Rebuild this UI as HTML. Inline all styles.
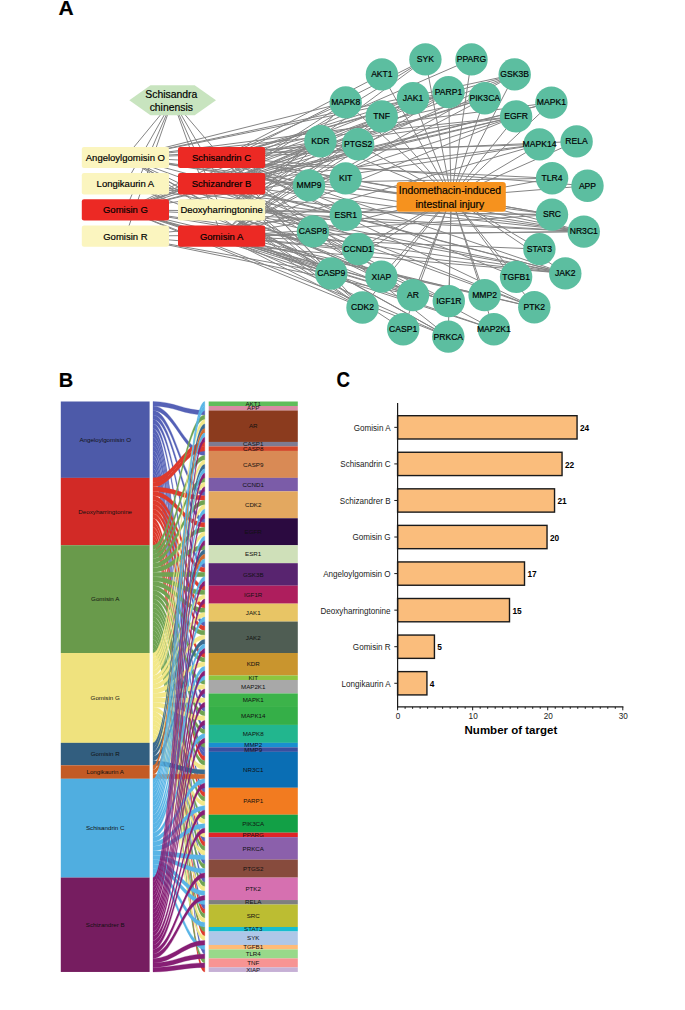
<!DOCTYPE html><html><head><meta charset="utf-8"><style>html,body{margin:0;padding:0;background:#fff;}svg{display:block;}text{font-family:"Liberation Sans", sans-serif;stroke:#000;stroke-width:0.18px;}</style></head><body>
<svg width="685" height="1010" viewBox="0 0 685 1010">
<rect width="685" height="1010" fill="#fff"/>
<g stroke="#848484" stroke-width="1.0" fill="none">
<line x1="172.6" y1="100.2" x2="125.4" y2="157.4"/>
<line x1="172.6" y1="100.2" x2="221.6" y2="209.9"/>
<line x1="172.6" y1="100.2" x2="221.6" y2="236.2"/>
<line x1="172.6" y1="100.2" x2="125.4" y2="209.9"/>
<line x1="172.6" y1="100.2" x2="125.4" y2="236.2"/>
<line x1="172.6" y1="100.2" x2="125.4" y2="183.8"/>
<line x1="172.6" y1="100.2" x2="221.6" y2="157.4"/>
<line x1="172.6" y1="100.2" x2="221.6" y2="183.8"/>
<line x1="221.6" y1="157.4" x2="381.9" y2="74.4"/>
<line x1="221.6" y1="157.4" x2="587.5" y2="185.8"/>
<line x1="125.4" y1="157.4" x2="413.0" y2="295.1"/>
<line x1="221.6" y1="236.2" x2="413.0" y2="295.1"/>
<line x1="125.4" y1="209.9" x2="413.0" y2="295.1"/>
<line x1="125.4" y1="236.2" x2="413.0" y2="295.1"/>
<line x1="125.4" y1="183.8" x2="413.0" y2="295.1"/>
<line x1="221.6" y1="157.4" x2="413.0" y2="295.1"/>
<line x1="221.6" y1="183.8" x2="413.0" y2="295.1"/>
<line x1="221.6" y1="209.9" x2="403.2" y2="329.2"/>
<line x1="221.6" y1="209.9" x2="312.9" y2="231.4"/>
<line x1="125.4" y1="157.4" x2="331.3" y2="273.5"/>
<line x1="221.6" y1="236.2" x2="331.3" y2="273.5"/>
<line x1="125.4" y1="209.9" x2="331.3" y2="273.5"/>
<line x1="125.4" y1="236.2" x2="331.3" y2="273.5"/>
<line x1="221.6" y1="157.4" x2="331.3" y2="273.5"/>
<line x1="221.6" y1="183.8" x2="331.3" y2="273.5"/>
<line x1="221.6" y1="236.2" x2="358.1" y2="249.0"/>
<line x1="125.4" y1="209.9" x2="358.1" y2="249.0"/>
<line x1="221.6" y1="183.8" x2="358.1" y2="249.0"/>
<line x1="125.4" y1="157.4" x2="362.5" y2="307.5"/>
<line x1="221.6" y1="209.9" x2="362.5" y2="307.5"/>
<line x1="221.6" y1="236.2" x2="362.5" y2="307.5"/>
<line x1="125.4" y1="209.9" x2="362.5" y2="307.5"/>
<line x1="221.6" y1="157.4" x2="362.5" y2="307.5"/>
<line x1="221.6" y1="183.8" x2="362.5" y2="307.5"/>
<line x1="125.4" y1="157.4" x2="516.1" y2="116.4"/>
<line x1="221.6" y1="209.9" x2="516.1" y2="116.4"/>
<line x1="221.6" y1="236.2" x2="516.1" y2="116.4"/>
<line x1="125.4" y1="209.9" x2="516.1" y2="116.4"/>
<line x1="221.6" y1="157.4" x2="516.1" y2="116.4"/>
<line x1="221.6" y1="183.8" x2="516.1" y2="116.4"/>
<line x1="221.6" y1="236.2" x2="345.8" y2="214.8"/>
<line x1="125.4" y1="236.2" x2="345.8" y2="214.8"/>
<line x1="125.4" y1="183.8" x2="345.8" y2="214.8"/>
<line x1="221.6" y1="157.4" x2="345.8" y2="214.8"/>
<line x1="125.4" y1="157.4" x2="514.7" y2="74.4"/>
<line x1="221.6" y1="209.9" x2="514.7" y2="74.4"/>
<line x1="221.6" y1="236.2" x2="514.7" y2="74.4"/>
<line x1="221.6" y1="157.4" x2="514.7" y2="74.4"/>
<line x1="221.6" y1="183.8" x2="514.7" y2="74.4"/>
<line x1="221.6" y1="209.9" x2="448.8" y2="301.1"/>
<line x1="221.6" y1="236.2" x2="448.8" y2="301.1"/>
<line x1="125.4" y1="209.9" x2="448.8" y2="301.1"/>
<line x1="221.6" y1="183.8" x2="448.8" y2="301.1"/>
<line x1="221.6" y1="209.9" x2="413.0" y2="98.2"/>
<line x1="221.6" y1="236.2" x2="413.0" y2="98.2"/>
<line x1="125.4" y1="209.9" x2="413.0" y2="98.2"/>
<line x1="221.6" y1="157.4" x2="413.0" y2="98.2"/>
<line x1="125.4" y1="157.4" x2="565.3" y2="273.4"/>
<line x1="221.6" y1="209.9" x2="565.3" y2="273.4"/>
<line x1="221.6" y1="236.2" x2="565.3" y2="273.4"/>
<line x1="125.4" y1="209.9" x2="565.3" y2="273.4"/>
<line x1="125.4" y1="236.2" x2="565.3" y2="273.4"/>
<line x1="221.6" y1="157.4" x2="565.3" y2="273.4"/>
<line x1="221.6" y1="183.8" x2="565.3" y2="273.4"/>
<line x1="125.4" y1="183.8" x2="565.3" y2="273.4"/>
<line x1="221.6" y1="209.9" x2="320.4" y2="141.2"/>
<line x1="221.6" y1="236.2" x2="320.4" y2="141.2"/>
<line x1="125.4" y1="209.9" x2="320.4" y2="141.2"/>
<line x1="221.6" y1="157.4" x2="320.4" y2="141.2"/>
<line x1="221.6" y1="183.8" x2="320.4" y2="141.2"/>
<line x1="221.6" y1="157.4" x2="345.6" y2="178.4"/>
<line x1="221.6" y1="236.2" x2="493.9" y2="329.3"/>
<line x1="125.4" y1="209.9" x2="493.9" y2="329.3"/>
<line x1="221.6" y1="183.8" x2="493.9" y2="329.3"/>
<line x1="125.4" y1="157.4" x2="551.4" y2="102.6"/>
<line x1="125.4" y1="209.9" x2="551.4" y2="102.6"/>
<line x1="221.6" y1="183.8" x2="551.4" y2="102.6"/>
<line x1="125.4" y1="157.4" x2="539.5" y2="144.4"/>
<line x1="221.6" y1="236.2" x2="539.5" y2="144.4"/>
<line x1="125.4" y1="209.9" x2="539.5" y2="144.4"/>
<line x1="221.6" y1="183.8" x2="539.5" y2="144.4"/>
<line x1="125.4" y1="157.4" x2="345.7" y2="102.4"/>
<line x1="221.6" y1="236.2" x2="345.7" y2="102.4"/>
<line x1="221.6" y1="157.4" x2="345.7" y2="102.4"/>
<line x1="221.6" y1="183.8" x2="345.7" y2="102.4"/>
<line x1="221.6" y1="236.2" x2="484.6" y2="295.1"/>
<line x1="125.4" y1="157.4" x2="309.0" y2="185.4"/>
<line x1="125.4" y1="157.4" x2="583.8" y2="231.6"/>
<line x1="221.6" y1="209.9" x2="583.8" y2="231.6"/>
<line x1="221.6" y1="236.2" x2="583.8" y2="231.6"/>
<line x1="125.4" y1="209.9" x2="583.8" y2="231.6"/>
<line x1="125.4" y1="236.2" x2="583.8" y2="231.6"/>
<line x1="125.4" y1="183.8" x2="583.8" y2="231.6"/>
<line x1="221.6" y1="157.4" x2="583.8" y2="231.6"/>
<line x1="221.6" y1="183.8" x2="583.8" y2="231.6"/>
<line x1="125.4" y1="157.4" x2="448.5" y2="92.1"/>
<line x1="221.6" y1="209.9" x2="448.5" y2="92.1"/>
<line x1="221.6" y1="236.2" x2="448.5" y2="92.1"/>
<line x1="125.4" y1="209.9" x2="448.5" y2="92.1"/>
<line x1="221.6" y1="157.4" x2="448.5" y2="92.1"/>
<line x1="221.6" y1="183.8" x2="448.5" y2="92.1"/>
<line x1="221.6" y1="236.2" x2="484.8" y2="98.2"/>
<line x1="125.4" y1="209.9" x2="484.8" y2="98.2"/>
<line x1="221.6" y1="157.4" x2="484.8" y2="98.2"/>
<line x1="221.6" y1="183.8" x2="484.8" y2="98.2"/>
<line x1="125.4" y1="209.9" x2="471.5" y2="59.4"/>
<line x1="125.4" y1="157.4" x2="448.3" y2="336.6"/>
<line x1="221.6" y1="209.9" x2="448.3" y2="336.6"/>
<line x1="221.6" y1="236.2" x2="448.3" y2="336.6"/>
<line x1="125.4" y1="209.9" x2="448.3" y2="336.6"/>
<line x1="221.6" y1="157.4" x2="448.3" y2="336.6"/>
<line x1="125.4" y1="157.4" x2="358.1" y2="144.3"/>
<line x1="221.6" y1="236.2" x2="358.1" y2="144.3"/>
<line x1="221.6" y1="157.4" x2="358.1" y2="144.3"/>
<line x1="221.6" y1="183.8" x2="358.1" y2="144.3"/>
<line x1="125.4" y1="157.4" x2="534.3" y2="307.3"/>
<line x1="221.6" y1="236.2" x2="534.3" y2="307.3"/>
<line x1="125.4" y1="209.9" x2="534.3" y2="307.3"/>
<line x1="221.6" y1="157.4" x2="534.3" y2="307.3"/>
<line x1="221.6" y1="183.8" x2="534.3" y2="307.3"/>
<line x1="221.6" y1="157.4" x2="576.6" y2="141.4"/>
<line x1="125.4" y1="157.4" x2="552.0" y2="214.6"/>
<line x1="221.6" y1="209.9" x2="552.0" y2="214.6"/>
<line x1="221.6" y1="236.2" x2="552.0" y2="214.6"/>
<line x1="125.4" y1="209.9" x2="552.0" y2="214.6"/>
<line x1="221.6" y1="157.4" x2="552.0" y2="214.6"/>
<line x1="221.6" y1="236.2" x2="539.4" y2="249.1"/>
<line x1="221.6" y1="209.9" x2="425.4" y2="59.4"/>
<line x1="125.4" y1="209.9" x2="425.4" y2="59.4"/>
<line x1="221.6" y1="183.8" x2="425.4" y2="59.4"/>
<line x1="221.6" y1="157.4" x2="516.1" y2="276.9"/>
<line x1="125.4" y1="157.4" x2="552.1" y2="178.3"/>
<line x1="221.6" y1="183.8" x2="552.1" y2="178.3"/>
<line x1="221.6" y1="236.2" x2="381.7" y2="116.4"/>
<line x1="221.6" y1="183.8" x2="381.7" y2="116.4"/>
<line x1="221.6" y1="209.9" x2="381.4" y2="276.6"/>
<line x1="425.4" y1="59.4" x2="451.2" y2="196.9"/>
<line x1="471.5" y1="59.4" x2="451.2" y2="196.9"/>
<line x1="514.7" y1="74.4" x2="451.2" y2="196.9"/>
<line x1="551.4" y1="102.6" x2="451.2" y2="196.9"/>
<line x1="576.6" y1="141.4" x2="451.2" y2="196.9"/>
<line x1="587.5" y1="185.8" x2="451.2" y2="196.9"/>
<line x1="583.8" y1="231.6" x2="451.2" y2="196.9"/>
<line x1="565.3" y1="273.4" x2="451.2" y2="196.9"/>
<line x1="534.3" y1="307.3" x2="451.2" y2="196.9"/>
<line x1="493.9" y1="329.3" x2="451.2" y2="196.9"/>
<line x1="448.3" y1="336.6" x2="451.2" y2="196.9"/>
<line x1="403.2" y1="329.2" x2="451.2" y2="196.9"/>
<line x1="362.5" y1="307.5" x2="451.2" y2="196.9"/>
<line x1="331.3" y1="273.5" x2="451.2" y2="196.9"/>
<line x1="312.9" y1="231.4" x2="451.2" y2="196.9"/>
<line x1="309.0" y1="185.4" x2="451.2" y2="196.9"/>
<line x1="320.4" y1="141.2" x2="451.2" y2="196.9"/>
<line x1="345.7" y1="102.4" x2="451.2" y2="196.9"/>
<line x1="381.9" y1="74.4" x2="451.2" y2="196.9"/>
<line x1="413.0" y1="98.2" x2="451.2" y2="196.9"/>
<line x1="448.5" y1="92.1" x2="451.2" y2="196.9"/>
<line x1="484.8" y1="98.2" x2="451.2" y2="196.9"/>
<line x1="516.1" y1="116.4" x2="451.2" y2="196.9"/>
<line x1="539.5" y1="144.4" x2="451.2" y2="196.9"/>
<line x1="552.1" y1="178.3" x2="451.2" y2="196.9"/>
<line x1="552.0" y1="214.6" x2="451.2" y2="196.9"/>
<line x1="539.4" y1="249.1" x2="451.2" y2="196.9"/>
<line x1="516.1" y1="276.9" x2="451.2" y2="196.9"/>
<line x1="484.6" y1="295.1" x2="451.2" y2="196.9"/>
<line x1="448.8" y1="301.1" x2="451.2" y2="196.9"/>
<line x1="413.0" y1="295.1" x2="451.2" y2="196.9"/>
<line x1="381.4" y1="276.6" x2="451.2" y2="196.9"/>
<line x1="358.1" y1="249.0" x2="451.2" y2="196.9"/>
<line x1="345.8" y1="214.8" x2="451.2" y2="196.9"/>
<line x1="345.6" y1="178.4" x2="451.2" y2="196.9"/>
<line x1="358.1" y1="144.3" x2="451.2" y2="196.9"/>
<line x1="381.7" y1="116.4" x2="451.2" y2="196.9"/>
</g>
<polygon points="129.3,100.2 150.5,85.2 194.7,85.2 216.0,100.2 194.7,115.3 150.5,115.3" fill="#C8E4BF"/>
<text x="171.3" y="97.8" font-size="10.4" text-anchor="middle" fill="#000">Schisandra</text>
<text x="171.3" y="110.8" font-size="10.4" text-anchor="middle" fill="#000">chinensis</text>
<rect x="81.8" y="146.9" width="87.2" height="21.1" rx="2.2" fill="#FBF5BF"/>
<text x="125.4" y="160.8" font-size="9.5" text-anchor="middle" fill="#000">Angeloylgomisin O</text>
<rect x="81.8" y="173.1" width="87.2" height="21.4" rx="2.2" fill="#FBF5BF"/>
<text x="125.4" y="187.2" font-size="9.5" text-anchor="middle" fill="#000">Longikaurin A</text>
<rect x="81.8" y="199.3" width="87.2" height="21.2" rx="2.2" fill="#EC2924"/>
<text x="125.4" y="213.3" font-size="9.5" text-anchor="middle" fill="#000">Gomisin G</text>
<rect x="81.8" y="225.6" width="87.2" height="21.2" rx="2.2" fill="#FBF5BF"/>
<text x="125.4" y="239.6" font-size="9.5" text-anchor="middle" fill="#000">Gomisin R</text>
<rect x="178.0" y="146.9" width="87.2" height="21.1" rx="2.2" fill="#EC2924"/>
<text x="221.6" y="160.8" font-size="9.5" text-anchor="middle" fill="#000">Schisandrin C</text>
<rect x="178.0" y="173.1" width="87.2" height="21.4" rx="2.2" fill="#EC2924"/>
<text x="221.6" y="187.2" font-size="9.5" text-anchor="middle" fill="#000">Schizandrer B</text>
<rect x="178.0" y="199.3" width="87.2" height="21.2" rx="2.2" fill="#FBF5BF"/>
<text x="221.6" y="213.3" font-size="9.5" text-anchor="middle" fill="#000">Deoxyharringtonine</text>
<rect x="178.0" y="225.6" width="87.2" height="21.2" rx="2.2" fill="#EC2924"/>
<text x="221.6" y="239.6" font-size="9.5" text-anchor="middle" fill="#000">Gomisin A</text>
<circle cx="425.4" cy="59.4" r="16.2" fill="#5CBEA0"/>
<text x="425.4" y="62.2" font-size="8.6" text-anchor="middle" fill="#000">SYK</text>
<circle cx="471.5" cy="59.4" r="16.2" fill="#5CBEA0"/>
<text x="471.5" y="62.2" font-size="8.6" text-anchor="middle" fill="#000">PPARG</text>
<circle cx="514.7" cy="74.4" r="16.2" fill="#5CBEA0"/>
<text x="514.7" y="77.2" font-size="8.6" text-anchor="middle" fill="#000">GSK3B</text>
<circle cx="551.4" cy="102.6" r="16.2" fill="#5CBEA0"/>
<text x="551.4" y="105.4" font-size="8.6" text-anchor="middle" fill="#000">MAPK1</text>
<circle cx="576.6" cy="141.4" r="16.2" fill="#5CBEA0"/>
<text x="576.6" y="144.2" font-size="8.6" text-anchor="middle" fill="#000">RELA</text>
<circle cx="587.5" cy="185.8" r="16.2" fill="#5CBEA0"/>
<text x="587.5" y="188.7" font-size="8.6" text-anchor="middle" fill="#000">APP</text>
<circle cx="583.8" cy="231.6" r="16.2" fill="#5CBEA0"/>
<text x="583.8" y="234.4" font-size="8.6" text-anchor="middle" fill="#000">NR3C1</text>
<circle cx="565.3" cy="273.4" r="16.2" fill="#5CBEA0"/>
<text x="565.3" y="276.2" font-size="8.6" text-anchor="middle" fill="#000">JAK2</text>
<circle cx="534.3" cy="307.3" r="16.2" fill="#5CBEA0"/>
<text x="534.3" y="310.2" font-size="8.6" text-anchor="middle" fill="#000">PTK2</text>
<circle cx="493.9" cy="329.3" r="16.2" fill="#5CBEA0"/>
<text x="493.9" y="332.2" font-size="8.6" text-anchor="middle" fill="#000">MAP2K1</text>
<circle cx="448.3" cy="336.6" r="16.2" fill="#5CBEA0"/>
<text x="448.3" y="339.5" font-size="8.6" text-anchor="middle" fill="#000">PRKCA</text>
<circle cx="403.2" cy="329.2" r="16.2" fill="#5CBEA0"/>
<text x="403.2" y="332.1" font-size="8.6" text-anchor="middle" fill="#000">CASP1</text>
<circle cx="362.5" cy="307.5" r="16.2" fill="#5CBEA0"/>
<text x="362.5" y="310.4" font-size="8.6" text-anchor="middle" fill="#000">CDK2</text>
<circle cx="331.3" cy="273.5" r="16.2" fill="#5CBEA0"/>
<text x="331.3" y="276.4" font-size="8.6" text-anchor="middle" fill="#000">CASP9</text>
<circle cx="312.9" cy="231.4" r="16.2" fill="#5CBEA0"/>
<text x="312.9" y="234.2" font-size="8.6" text-anchor="middle" fill="#000">CASP8</text>
<circle cx="309.0" cy="185.4" r="16.2" fill="#5CBEA0"/>
<text x="309.0" y="188.2" font-size="8.6" text-anchor="middle" fill="#000">MMP9</text>
<circle cx="320.4" cy="141.2" r="16.2" fill="#5CBEA0"/>
<text x="320.4" y="144.0" font-size="8.6" text-anchor="middle" fill="#000">KDR</text>
<circle cx="345.7" cy="102.4" r="16.2" fill="#5CBEA0"/>
<text x="345.7" y="105.2" font-size="8.6" text-anchor="middle" fill="#000">MAPK8</text>
<circle cx="381.9" cy="74.4" r="16.2" fill="#5CBEA0"/>
<text x="381.9" y="77.2" font-size="8.6" text-anchor="middle" fill="#000">AKT1</text>
<circle cx="413.0" cy="98.2" r="16.2" fill="#5CBEA0"/>
<text x="413.0" y="101.0" font-size="8.6" text-anchor="middle" fill="#000">JAK1</text>
<circle cx="448.5" cy="92.1" r="16.2" fill="#5CBEA0"/>
<text x="448.5" y="94.9" font-size="8.6" text-anchor="middle" fill="#000">PARP1</text>
<circle cx="484.8" cy="98.2" r="16.2" fill="#5CBEA0"/>
<text x="484.8" y="101.0" font-size="8.6" text-anchor="middle" fill="#000">PIK3CA</text>
<circle cx="516.1" cy="116.4" r="16.2" fill="#5CBEA0"/>
<text x="516.1" y="119.2" font-size="8.6" text-anchor="middle" fill="#000">EGFR</text>
<circle cx="539.5" cy="144.4" r="16.2" fill="#5CBEA0"/>
<text x="539.5" y="147.2" font-size="8.6" text-anchor="middle" fill="#000">MAPK14</text>
<circle cx="552.1" cy="178.3" r="16.2" fill="#5CBEA0"/>
<text x="552.1" y="181.2" font-size="8.6" text-anchor="middle" fill="#000">TLR4</text>
<circle cx="552.0" cy="214.6" r="16.2" fill="#5CBEA0"/>
<text x="552.0" y="217.4" font-size="8.6" text-anchor="middle" fill="#000">SRC</text>
<circle cx="539.4" cy="249.1" r="16.2" fill="#5CBEA0"/>
<text x="539.4" y="251.9" font-size="8.6" text-anchor="middle" fill="#000">STAT3</text>
<circle cx="516.1" cy="276.9" r="16.2" fill="#5CBEA0"/>
<text x="516.1" y="279.8" font-size="8.6" text-anchor="middle" fill="#000">TGFB1</text>
<circle cx="484.6" cy="295.1" r="16.2" fill="#5CBEA0"/>
<text x="484.6" y="298.0" font-size="8.6" text-anchor="middle" fill="#000">MMP2</text>
<circle cx="448.8" cy="301.1" r="16.2" fill="#5CBEA0"/>
<text x="448.8" y="304.0" font-size="8.6" text-anchor="middle" fill="#000">IGF1R</text>
<circle cx="413.0" cy="295.1" r="16.2" fill="#5CBEA0"/>
<text x="413.0" y="298.0" font-size="8.6" text-anchor="middle" fill="#000">AR</text>
<circle cx="381.4" cy="276.6" r="16.2" fill="#5CBEA0"/>
<text x="381.4" y="279.5" font-size="8.6" text-anchor="middle" fill="#000">XIAP</text>
<circle cx="358.1" cy="249.0" r="16.2" fill="#5CBEA0"/>
<text x="358.1" y="251.8" font-size="8.6" text-anchor="middle" fill="#000">CCND1</text>
<circle cx="345.8" cy="214.8" r="16.2" fill="#5CBEA0"/>
<text x="345.8" y="217.7" font-size="8.6" text-anchor="middle" fill="#000">ESR1</text>
<circle cx="345.6" cy="178.4" r="16.2" fill="#5CBEA0"/>
<text x="345.6" y="181.2" font-size="8.6" text-anchor="middle" fill="#000">KIT</text>
<circle cx="358.1" cy="144.3" r="16.2" fill="#5CBEA0"/>
<text x="358.1" y="147.2" font-size="8.6" text-anchor="middle" fill="#000">PTGS2</text>
<circle cx="381.7" cy="116.4" r="16.2" fill="#5CBEA0"/>
<text x="381.7" y="119.2" font-size="8.6" text-anchor="middle" fill="#000">TNF</text>
<rect x="396.6" y="182.0" width="109.2" height="29.8" rx="3" fill="#F6921E"/>
<text x="449.9" y="194.1" font-size="10.4" text-anchor="middle" fill="#000">Indomethacin-induced</text>
<text x="449.9" y="207.7" font-size="10.4" text-anchor="middle" fill="#000">intestinal injury</text>
<text x="58.6" y="14.6" font-size="21" font-weight="bold" fill="#000">A</text>
<text x="58.8" y="387.3" font-size="20" font-weight="bold" fill="#000">B</text>
<text transform="translate(336.4,387.0) scale(0.88,1)" font-size="21.2" font-weight="bold" fill="#000">C</text>
<g>
<path d="M153.00,401.50 C173.72,401.50 184.08,410.48 204.80,410.48 L204.80,414.97 C184.08,414.97 173.72,405.99 153.00,405.99 Z" fill="#5561B6" stroke="#5561B6" stroke-width="0.3"/>
<path d="M153.00,405.99 C173.72,405.99 184.08,450.90 204.80,450.90 L204.80,455.40 C184.08,455.40 173.72,410.48 153.00,410.48 Z" fill="#5561B6" stroke="#5561B6" stroke-width="0.3"/>
<path d="M153.00,410.48 C173.72,410.48 184.08,491.33 204.80,491.33 L204.80,495.82 C184.08,495.82 173.72,414.97 153.00,414.97 Z" fill="#5561B6" stroke="#5561B6" stroke-width="0.3"/>
<path d="M153.00,414.97 C173.72,414.97 184.08,518.27 204.80,518.27 L204.80,522.77 C184.08,522.77 173.72,419.47 153.00,419.47 Z" fill="#5561B6" stroke="#5561B6" stroke-width="0.3"/>
<path d="M153.00,419.47 C173.72,419.47 184.08,563.19 204.80,563.19 L204.80,567.68 C184.08,567.68 173.72,423.96 153.00,423.96 Z" fill="#5561B6" stroke="#5561B6" stroke-width="0.3"/>
<path d="M153.00,423.96 C173.72,423.96 184.08,621.58 204.80,621.58 L204.80,626.07 C184.08,626.07 173.72,428.45 153.00,428.45 Z" fill="#5561B6" stroke="#5561B6" stroke-width="0.3"/>
<path d="M153.00,428.45 C173.72,428.45 184.08,693.44 204.80,693.44 L204.80,697.93 C184.08,697.93 173.72,432.94 153.00,432.94 Z" fill="#5561B6" stroke="#5561B6" stroke-width="0.3"/>
<path d="M153.00,432.94 C173.72,432.94 184.08,706.91 204.80,706.91 L204.80,711.40 C184.08,711.40 173.72,437.43 153.00,437.43 Z" fill="#5561B6" stroke="#5561B6" stroke-width="0.3"/>
<path d="M153.00,437.43 C173.72,437.43 184.08,724.88 204.80,724.88 L204.80,729.37 C184.08,729.37 173.72,441.92 153.00,441.92 Z" fill="#5561B6" stroke="#5561B6" stroke-width="0.3"/>
<path d="M153.00,441.92 C173.72,441.92 184.08,747.33 204.80,747.33 L204.80,751.82 C184.08,751.82 173.72,446.41 153.00,446.41 Z" fill="#5561B6" stroke="#5561B6" stroke-width="0.3"/>
<path d="M153.00,446.41 C173.72,446.41 184.08,751.82 204.80,751.82 L204.80,756.32 C184.08,756.32 173.72,450.90 153.00,450.90 Z" fill="#5561B6" stroke="#5561B6" stroke-width="0.3"/>
<path d="M153.00,450.90 C173.72,450.90 184.08,787.76 204.80,787.76 L204.80,792.25 C184.08,792.25 173.72,455.40 153.00,455.40 Z" fill="#5561B6" stroke="#5561B6" stroke-width="0.3"/>
<path d="M153.00,455.40 C173.72,455.40 184.08,837.16 204.80,837.16 L204.80,841.65 C184.08,841.65 173.72,459.89 153.00,459.89 Z" fill="#5561B6" stroke="#5561B6" stroke-width="0.3"/>
<path d="M153.00,459.89 C173.72,459.89 184.08,859.62 204.80,859.62 L204.80,864.11 C184.08,864.11 173.72,464.38 153.00,464.38 Z" fill="#5561B6" stroke="#5561B6" stroke-width="0.3"/>
<path d="M153.00,464.38 C173.72,464.38 184.08,877.58 204.80,877.58 L204.80,882.07 C184.08,882.07 173.72,468.87 153.00,468.87 Z" fill="#5561B6" stroke="#5561B6" stroke-width="0.3"/>
<path d="M153.00,468.87 C173.72,468.87 184.08,904.53 204.80,904.53 L204.80,909.02 C184.08,909.02 173.72,473.36 153.00,473.36 Z" fill="#5561B6" stroke="#5561B6" stroke-width="0.3"/>
<path d="M153.00,473.36 C173.72,473.36 184.08,949.44 204.80,949.44 L204.80,953.93 C184.08,953.93 173.72,477.85 153.00,477.85 Z" fill="#5561B6" stroke="#5561B6" stroke-width="0.3"/>
<path d="M153.00,477.85 C173.72,477.85 184.08,441.92 204.80,441.92 L204.80,446.41 C184.08,446.41 173.72,482.34 153.00,482.34 Z" fill="#DE3A2C" stroke="#DE3A2C" stroke-width="0.3"/>
<path d="M153.00,482.34 C173.72,482.34 184.08,446.41 204.80,446.41 L204.80,450.90 C184.08,450.90 173.72,486.84 153.00,486.84 Z" fill="#DE3A2C" stroke="#DE3A2C" stroke-width="0.3"/>
<path d="M153.00,486.84 C173.72,486.84 184.08,495.82 204.80,495.82 L204.80,500.31 C184.08,500.31 173.72,491.33 153.00,491.33 Z" fill="#DE3A2C" stroke="#DE3A2C" stroke-width="0.3"/>
<path d="M153.00,491.33 C173.72,491.33 184.08,522.77 204.80,522.77 L204.80,527.26 C184.08,527.26 173.72,495.82 153.00,495.82 Z" fill="#DE3A2C" stroke="#DE3A2C" stroke-width="0.3"/>
<path d="M153.00,495.82 C173.72,495.82 184.08,567.68 204.80,567.68 L204.80,572.17 C184.08,572.17 173.72,500.31 153.00,500.31 Z" fill="#DE3A2C" stroke="#DE3A2C" stroke-width="0.3"/>
<path d="M153.00,500.31 C173.72,500.31 184.08,585.64 204.80,585.64 L204.80,590.14 C184.08,590.14 173.72,504.80 153.00,504.80 Z" fill="#DE3A2C" stroke="#DE3A2C" stroke-width="0.3"/>
<path d="M153.00,504.80 C173.72,504.80 184.08,603.61 204.80,603.61 L204.80,608.10 C184.08,608.10 173.72,509.29 153.00,509.29 Z" fill="#DE3A2C" stroke="#DE3A2C" stroke-width="0.3"/>
<path d="M153.00,509.29 C173.72,509.29 184.08,626.07 204.80,626.07 L204.80,630.56 C184.08,630.56 173.72,513.78 153.00,513.78 Z" fill="#DE3A2C" stroke="#DE3A2C" stroke-width="0.3"/>
<path d="M153.00,513.78 C173.72,513.78 184.08,653.01 204.80,653.01 L204.80,657.51 C184.08,657.51 173.72,518.27 153.00,518.27 Z" fill="#DE3A2C" stroke="#DE3A2C" stroke-width="0.3"/>
<path d="M153.00,518.27 C173.72,518.27 184.08,756.32 204.80,756.32 L204.80,760.81 C184.08,760.81 173.72,522.77 153.00,522.77 Z" fill="#DE3A2C" stroke="#DE3A2C" stroke-width="0.3"/>
<path d="M153.00,522.77 C173.72,522.77 184.08,792.25 204.80,792.25 L204.80,796.74 C184.08,796.74 173.72,527.26 153.00,527.26 Z" fill="#DE3A2C" stroke="#DE3A2C" stroke-width="0.3"/>
<path d="M153.00,527.26 C173.72,527.26 184.08,841.65 204.80,841.65 L204.80,846.14 C184.08,846.14 173.72,531.75 153.00,531.75 Z" fill="#DE3A2C" stroke="#DE3A2C" stroke-width="0.3"/>
<path d="M153.00,531.75 C173.72,531.75 184.08,909.02 204.80,909.02 L204.80,913.51 C184.08,913.51 173.72,536.24 153.00,536.24 Z" fill="#DE3A2C" stroke="#DE3A2C" stroke-width="0.3"/>
<path d="M153.00,536.24 C173.72,536.24 184.08,931.48 204.80,931.48 L204.80,935.97 C184.08,935.97 173.72,540.73 153.00,540.73 Z" fill="#DE3A2C" stroke="#DE3A2C" stroke-width="0.3"/>
<path d="M153.00,540.73 C173.72,540.73 184.08,967.41 204.80,967.41 L204.80,971.90 C184.08,971.90 173.72,545.22 153.00,545.22 Z" fill="#DE3A2C" stroke="#DE3A2C" stroke-width="0.3"/>
<path d="M153.00,545.22 C173.72,545.22 184.08,414.97 204.80,414.97 L204.80,419.47 C184.08,419.47 173.72,549.71 153.00,549.71 Z" fill="#6FA352" stroke="#6FA352" stroke-width="0.3"/>
<path d="M153.00,549.71 C173.72,549.71 184.08,455.40 204.80,455.40 L204.80,459.89 C184.08,459.89 173.72,554.21 153.00,554.21 Z" fill="#6FA352" stroke="#6FA352" stroke-width="0.3"/>
<path d="M153.00,554.21 C173.72,554.21 184.08,477.85 204.80,477.85 L204.80,482.34 C184.08,482.34 173.72,558.70 153.00,558.70 Z" fill="#6FA352" stroke="#6FA352" stroke-width="0.3"/>
<path d="M153.00,558.70 C173.72,558.70 184.08,500.31 204.80,500.31 L204.80,504.80 C184.08,504.80 173.72,563.19 153.00,563.19 Z" fill="#6FA352" stroke="#6FA352" stroke-width="0.3"/>
<path d="M153.00,563.19 C173.72,563.19 184.08,527.26 204.80,527.26 L204.80,531.75 C184.08,531.75 173.72,567.68 153.00,567.68 Z" fill="#6FA352" stroke="#6FA352" stroke-width="0.3"/>
<path d="M153.00,567.68 C173.72,567.68 184.08,545.22 204.80,545.22 L204.80,549.71 C184.08,549.71 173.72,572.17 153.00,572.17 Z" fill="#6FA352" stroke="#6FA352" stroke-width="0.3"/>
<path d="M153.00,572.17 C173.72,572.17 184.08,572.17 204.80,572.17 L204.80,576.66 C184.08,576.66 173.72,576.66 153.00,576.66 Z" fill="#6FA352" stroke="#6FA352" stroke-width="0.3"/>
<path d="M153.00,576.66 C173.72,576.66 184.08,590.14 204.80,590.14 L204.80,594.63 C184.08,594.63 173.72,581.15 153.00,581.15 Z" fill="#6FA352" stroke="#6FA352" stroke-width="0.3"/>
<path d="M153.00,581.15 C173.72,581.15 184.08,608.10 204.80,608.10 L204.80,612.59 C184.08,612.59 173.72,585.64 153.00,585.64 Z" fill="#6FA352" stroke="#6FA352" stroke-width="0.3"/>
<path d="M153.00,585.64 C173.72,585.64 184.08,630.56 204.80,630.56 L204.80,635.05 C184.08,635.05 173.72,590.14 153.00,590.14 Z" fill="#6FA352" stroke="#6FA352" stroke-width="0.3"/>
<path d="M153.00,590.14 C173.72,590.14 184.08,657.51 204.80,657.51 L204.80,662.00 C184.08,662.00 173.72,594.63 153.00,594.63 Z" fill="#6FA352" stroke="#6FA352" stroke-width="0.3"/>
<path d="M153.00,594.63 C173.72,594.63 184.08,679.96 204.80,679.96 L204.80,684.45 C184.08,684.45 173.72,599.12 153.00,599.12 Z" fill="#6FA352" stroke="#6FA352" stroke-width="0.3"/>
<path d="M153.00,599.12 C173.72,599.12 184.08,711.40 204.80,711.40 L204.80,715.89 C184.08,715.89 173.72,603.61 153.00,603.61 Z" fill="#6FA352" stroke="#6FA352" stroke-width="0.3"/>
<path d="M153.00,603.61 C173.72,603.61 184.08,729.37 204.80,729.37 L204.80,733.86 C184.08,733.86 173.72,608.10 153.00,608.10 Z" fill="#6FA352" stroke="#6FA352" stroke-width="0.3"/>
<path d="M153.00,608.10 C173.72,608.10 184.08,742.84 204.80,742.84 L204.80,747.33 C184.08,747.33 173.72,612.59 153.00,612.59 Z" fill="#6FA352" stroke="#6FA352" stroke-width="0.3"/>
<path d="M153.00,612.59 C173.72,612.59 184.08,760.81 204.80,760.81 L204.80,765.30 C184.08,765.30 173.72,617.08 153.00,617.08 Z" fill="#6FA352" stroke="#6FA352" stroke-width="0.3"/>
<path d="M153.00,617.08 C173.72,617.08 184.08,796.74 204.80,796.74 L204.80,801.23 C184.08,801.23 173.72,621.58 153.00,621.58 Z" fill="#6FA352" stroke="#6FA352" stroke-width="0.3"/>
<path d="M153.00,621.58 C173.72,621.58 184.08,814.70 204.80,814.70 L204.80,819.19 C184.08,819.19 173.72,626.07 153.00,626.07 Z" fill="#6FA352" stroke="#6FA352" stroke-width="0.3"/>
<path d="M153.00,626.07 C173.72,626.07 184.08,846.14 204.80,846.14 L204.80,850.63 C184.08,850.63 173.72,630.56 153.00,630.56 Z" fill="#6FA352" stroke="#6FA352" stroke-width="0.3"/>
<path d="M153.00,630.56 C173.72,630.56 184.08,864.11 204.80,864.11 L204.80,868.60 C184.08,868.60 173.72,635.05 153.00,635.05 Z" fill="#6FA352" stroke="#6FA352" stroke-width="0.3"/>
<path d="M153.00,635.05 C173.72,635.05 184.08,882.07 204.80,882.07 L204.80,886.56 C184.08,886.56 173.72,639.54 153.00,639.54 Z" fill="#6FA352" stroke="#6FA352" stroke-width="0.3"/>
<path d="M153.00,639.54 C173.72,639.54 184.08,913.51 204.80,913.51 L204.80,918.00 C184.08,918.00 173.72,644.03 153.00,644.03 Z" fill="#6FA352" stroke="#6FA352" stroke-width="0.3"/>
<path d="M153.00,644.03 C173.72,644.03 184.08,926.99 204.80,926.99 L204.80,931.48 C184.08,931.48 173.72,648.52 153.00,648.52 Z" fill="#6FA352" stroke="#6FA352" stroke-width="0.3"/>
<path d="M153.00,648.52 C173.72,648.52 184.08,958.43 204.80,958.43 L204.80,962.92 C184.08,962.92 173.72,653.01 153.00,653.01 Z" fill="#6FA352" stroke="#6FA352" stroke-width="0.3"/>
<path d="M153.00,653.01 C173.72,653.01 184.08,419.47 204.80,419.47 L204.80,423.96 C184.08,423.96 173.72,657.51 153.00,657.51 Z" fill="#F3E889" stroke="#F3E889" stroke-width="0.3"/>
<path d="M153.00,657.51 C173.72,657.51 184.08,459.89 204.80,459.89 L204.80,464.38 C184.08,464.38 173.72,662.00 153.00,662.00 Z" fill="#F3E889" stroke="#F3E889" stroke-width="0.3"/>
<path d="M153.00,662.00 C173.72,662.00 184.08,482.34 204.80,482.34 L204.80,486.84 C184.08,486.84 173.72,666.49 153.00,666.49 Z" fill="#F3E889" stroke="#F3E889" stroke-width="0.3"/>
<path d="M153.00,666.49 C173.72,666.49 184.08,504.80 204.80,504.80 L204.80,509.29 C184.08,509.29 173.72,670.98 153.00,670.98 Z" fill="#F3E889" stroke="#F3E889" stroke-width="0.3"/>
<path d="M153.00,670.98 C173.72,670.98 184.08,531.75 204.80,531.75 L204.80,536.24 C184.08,536.24 173.72,675.47 153.00,675.47 Z" fill="#F3E889" stroke="#F3E889" stroke-width="0.3"/>
<path d="M153.00,675.47 C173.72,675.47 184.08,594.63 204.80,594.63 L204.80,599.12 C184.08,599.12 173.72,679.96 153.00,679.96 Z" fill="#F3E889" stroke="#F3E889" stroke-width="0.3"/>
<path d="M153.00,679.96 C173.72,679.96 184.08,612.59 204.80,612.59 L204.80,617.08 C184.08,617.08 173.72,684.45 153.00,684.45 Z" fill="#F3E889" stroke="#F3E889" stroke-width="0.3"/>
<path d="M153.00,684.45 C173.72,684.45 184.08,635.05 204.80,635.05 L204.80,639.54 C184.08,639.54 173.72,688.95 153.00,688.95 Z" fill="#F3E889" stroke="#F3E889" stroke-width="0.3"/>
<path d="M153.00,688.95 C173.72,688.95 184.08,662.00 204.80,662.00 L204.80,666.49 C184.08,666.49 173.72,693.44 153.00,693.44 Z" fill="#F3E889" stroke="#F3E889" stroke-width="0.3"/>
<path d="M153.00,693.44 C173.72,693.44 184.08,684.45 204.80,684.45 L204.80,688.95 C184.08,688.95 173.72,697.93 153.00,697.93 Z" fill="#F3E889" stroke="#F3E889" stroke-width="0.3"/>
<path d="M153.00,697.93 C173.72,697.93 184.08,697.93 204.80,697.93 L204.80,702.42 C184.08,702.42 173.72,702.42 153.00,702.42 Z" fill="#F3E889" stroke="#F3E889" stroke-width="0.3"/>
<path d="M153.00,702.42 C173.72,702.42 184.08,715.89 204.80,715.89 L204.80,720.39 C184.08,720.39 173.72,706.91 153.00,706.91 Z" fill="#F3E889" stroke="#F3E889" stroke-width="0.3"/>
<path d="M153.00,706.91 C173.72,706.91 184.08,765.30 204.80,765.30 L204.80,769.79 C184.08,769.79 173.72,711.40 153.00,711.40 Z" fill="#F3E889" stroke="#F3E889" stroke-width="0.3"/>
<path d="M153.00,711.40 C173.72,711.40 184.08,801.23 204.80,801.23 L204.80,805.72 C184.08,805.72 173.72,715.89 153.00,715.89 Z" fill="#F3E889" stroke="#F3E889" stroke-width="0.3"/>
<path d="M153.00,715.89 C173.72,715.89 184.08,819.19 204.80,819.19 L204.80,823.69 C184.08,823.69 173.72,720.39 153.00,720.39 Z" fill="#F3E889" stroke="#F3E889" stroke-width="0.3"/>
<path d="M153.00,720.39 C173.72,720.39 184.08,832.67 204.80,832.67 L204.80,837.16 C184.08,837.16 173.72,724.88 153.00,724.88 Z" fill="#F3E889" stroke="#F3E889" stroke-width="0.3"/>
<path d="M153.00,724.88 C173.72,724.88 184.08,850.63 204.80,850.63 L204.80,855.13 C184.08,855.13 173.72,729.37 153.00,729.37 Z" fill="#F3E889" stroke="#F3E889" stroke-width="0.3"/>
<path d="M153.00,729.37 C173.72,729.37 184.08,886.56 204.80,886.56 L204.80,891.06 C184.08,891.06 173.72,733.86 153.00,733.86 Z" fill="#F3E889" stroke="#F3E889" stroke-width="0.3"/>
<path d="M153.00,733.86 C173.72,733.86 184.08,918.00 204.80,918.00 L204.80,922.50 C184.08,922.50 173.72,738.35 153.00,738.35 Z" fill="#F3E889" stroke="#F3E889" stroke-width="0.3"/>
<path d="M153.00,738.35 C173.72,738.35 184.08,935.97 204.80,935.97 L204.80,940.46 C184.08,940.46 173.72,742.84 153.00,742.84 Z" fill="#F3E889" stroke="#F3E889" stroke-width="0.3"/>
<path d="M153.00,742.84 C173.72,742.84 184.08,423.96 204.80,423.96 L204.80,428.45 C184.08,428.45 173.72,747.33 153.00,747.33 Z" fill="#3A6A8E" stroke="#3A6A8E" stroke-width="0.3"/>
<path d="M153.00,747.33 C173.72,747.33 184.08,464.38 204.80,464.38 L204.80,468.87 C184.08,468.87 173.72,751.82 153.00,751.82 Z" fill="#3A6A8E" stroke="#3A6A8E" stroke-width="0.3"/>
<path d="M153.00,751.82 C173.72,751.82 184.08,549.71 204.80,549.71 L204.80,554.21 C184.08,554.21 173.72,756.32 153.00,756.32 Z" fill="#3A6A8E" stroke="#3A6A8E" stroke-width="0.3"/>
<path d="M153.00,756.32 C173.72,756.32 184.08,639.54 204.80,639.54 L204.80,644.03 C184.08,644.03 173.72,760.81 153.00,760.81 Z" fill="#3A6A8E" stroke="#3A6A8E" stroke-width="0.3"/>
<path d="M153.00,760.81 C173.72,760.81 184.08,769.79 204.80,769.79 L204.80,774.28 C184.08,774.28 173.72,765.30 153.00,765.30 Z" fill="#3A6A8E" stroke="#3A6A8E" stroke-width="0.3"/>
<path d="M153.00,765.30 C173.72,765.30 184.08,428.45 204.80,428.45 L204.80,432.94 C184.08,432.94 173.72,769.79 153.00,769.79 Z" fill="#D06A30" stroke="#D06A30" stroke-width="0.3"/>
<path d="M153.00,769.79 C173.72,769.79 184.08,554.21 204.80,554.21 L204.80,558.70 C184.08,558.70 173.72,774.28 153.00,774.28 Z" fill="#D06A30" stroke="#D06A30" stroke-width="0.3"/>
<path d="M153.00,774.28 C173.72,774.28 184.08,774.28 204.80,774.28 L204.80,778.77 C184.08,778.77 173.72,778.77 153.00,778.77 Z" fill="#D06A30" stroke="#D06A30" stroke-width="0.3"/>
<path d="M153.00,778.77 C173.72,778.77 184.08,401.50 204.80,401.50 L204.80,405.99 C184.08,405.99 173.72,783.26 153.00,783.26 Z" fill="#5AB5E6" stroke="#5AB5E6" stroke-width="0.3"/>
<path d="M153.00,783.26 C173.72,783.26 184.08,405.99 204.80,405.99 L204.80,410.48 C184.08,410.48 173.72,787.76 153.00,787.76 Z" fill="#5AB5E6" stroke="#5AB5E6" stroke-width="0.3"/>
<path d="M153.00,787.76 C173.72,787.76 184.08,432.94 204.80,432.94 L204.80,437.43 C184.08,437.43 173.72,792.25 153.00,792.25 Z" fill="#5AB5E6" stroke="#5AB5E6" stroke-width="0.3"/>
<path d="M153.00,792.25 C173.72,792.25 184.08,468.87 204.80,468.87 L204.80,473.36 C184.08,473.36 173.72,796.74 153.00,796.74 Z" fill="#5AB5E6" stroke="#5AB5E6" stroke-width="0.3"/>
<path d="M153.00,796.74 C173.72,796.74 184.08,509.29 204.80,509.29 L204.80,513.78 C184.08,513.78 173.72,801.23 153.00,801.23 Z" fill="#5AB5E6" stroke="#5AB5E6" stroke-width="0.3"/>
<path d="M153.00,801.23 C173.72,801.23 184.08,536.24 204.80,536.24 L204.80,540.73 C184.08,540.73 173.72,805.72 153.00,805.72 Z" fill="#5AB5E6" stroke="#5AB5E6" stroke-width="0.3"/>
<path d="M153.00,805.72 C173.72,805.72 184.08,558.70 204.80,558.70 L204.80,563.19 C184.08,563.19 173.72,810.21 153.00,810.21 Z" fill="#5AB5E6" stroke="#5AB5E6" stroke-width="0.3"/>
<path d="M153.00,810.21 C173.72,810.21 184.08,576.66 204.80,576.66 L204.80,581.15 C184.08,581.15 173.72,814.70 153.00,814.70 Z" fill="#5AB5E6" stroke="#5AB5E6" stroke-width="0.3"/>
<path d="M153.00,814.70 C173.72,814.70 184.08,617.08 204.80,617.08 L204.80,621.58 C184.08,621.58 173.72,819.19 153.00,819.19 Z" fill="#5AB5E6" stroke="#5AB5E6" stroke-width="0.3"/>
<path d="M153.00,819.19 C173.72,819.19 184.08,644.03 204.80,644.03 L204.80,648.52 C184.08,648.52 173.72,823.69 153.00,823.69 Z" fill="#5AB5E6" stroke="#5AB5E6" stroke-width="0.3"/>
<path d="M153.00,823.69 C173.72,823.69 184.08,666.49 204.80,666.49 L204.80,670.98 C184.08,670.98 173.72,828.18 153.00,828.18 Z" fill="#5AB5E6" stroke="#5AB5E6" stroke-width="0.3"/>
<path d="M153.00,828.18 C173.72,828.18 184.08,675.47 204.80,675.47 L204.80,679.96 C184.08,679.96 173.72,832.67 153.00,832.67 Z" fill="#5AB5E6" stroke="#5AB5E6" stroke-width="0.3"/>
<path d="M153.00,832.67 C173.72,832.67 184.08,733.86 204.80,733.86 L204.80,738.35 C184.08,738.35 173.72,837.16 153.00,837.16 Z" fill="#5AB5E6" stroke="#5AB5E6" stroke-width="0.3"/>
<path d="M153.00,837.16 C173.72,837.16 184.08,778.77 204.80,778.77 L204.80,783.26 C184.08,783.26 173.72,841.65 153.00,841.65 Z" fill="#5AB5E6" stroke="#5AB5E6" stroke-width="0.3"/>
<path d="M153.00,841.65 C173.72,841.65 184.08,805.72 204.80,805.72 L204.80,810.21 C184.08,810.21 173.72,846.14 153.00,846.14 Z" fill="#5AB5E6" stroke="#5AB5E6" stroke-width="0.3"/>
<path d="M153.00,846.14 C173.72,846.14 184.08,823.69 204.80,823.69 L204.80,828.18 C184.08,828.18 173.72,850.63 153.00,850.63 Z" fill="#5AB5E6" stroke="#5AB5E6" stroke-width="0.3"/>
<path d="M153.00,850.63 C173.72,850.63 184.08,855.13 204.80,855.13 L204.80,859.62 C184.08,859.62 173.72,855.13 153.00,855.13 Z" fill="#5AB5E6" stroke="#5AB5E6" stroke-width="0.3"/>
<path d="M153.00,855.13 C173.72,855.13 184.08,868.60 204.80,868.60 L204.80,873.09 C184.08,873.09 173.72,859.62 153.00,859.62 Z" fill="#5AB5E6" stroke="#5AB5E6" stroke-width="0.3"/>
<path d="M153.00,859.62 C173.72,859.62 184.08,891.06 204.80,891.06 L204.80,895.55 C184.08,895.55 173.72,864.11 153.00,864.11 Z" fill="#5AB5E6" stroke="#5AB5E6" stroke-width="0.3"/>
<path d="M153.00,864.11 C173.72,864.11 184.08,900.04 204.80,900.04 L204.80,904.53 C184.08,904.53 173.72,868.60 153.00,868.60 Z" fill="#5AB5E6" stroke="#5AB5E6" stroke-width="0.3"/>
<path d="M153.00,868.60 C173.72,868.60 184.08,922.50 204.80,922.50 L204.80,926.99 C184.08,926.99 173.72,873.09 153.00,873.09 Z" fill="#5AB5E6" stroke="#5AB5E6" stroke-width="0.3"/>
<path d="M153.00,873.09 C173.72,873.09 184.08,944.95 204.80,944.95 L204.80,949.44 C184.08,949.44 173.72,877.58 153.00,877.58 Z" fill="#5AB5E6" stroke="#5AB5E6" stroke-width="0.3"/>
<path d="M153.00,877.58 C173.72,877.58 184.08,437.43 204.80,437.43 L204.80,441.92 C184.08,441.92 173.72,882.07 153.00,882.07 Z" fill="#861E74" stroke="#861E74" stroke-width="0.3"/>
<path d="M153.00,882.07 C173.72,882.07 184.08,473.36 204.80,473.36 L204.80,477.85 C184.08,477.85 173.72,886.56 153.00,886.56 Z" fill="#861E74" stroke="#861E74" stroke-width="0.3"/>
<path d="M153.00,886.56 C173.72,886.56 184.08,486.84 204.80,486.84 L204.80,491.33 C184.08,491.33 173.72,891.06 153.00,891.06 Z" fill="#861E74" stroke="#861E74" stroke-width="0.3"/>
<path d="M153.00,891.06 C173.72,891.06 184.08,513.78 204.80,513.78 L204.80,518.27 C184.08,518.27 173.72,895.55 153.00,895.55 Z" fill="#861E74" stroke="#861E74" stroke-width="0.3"/>
<path d="M153.00,895.55 C173.72,895.55 184.08,540.73 204.80,540.73 L204.80,545.22 C184.08,545.22 173.72,900.04 153.00,900.04 Z" fill="#861E74" stroke="#861E74" stroke-width="0.3"/>
<path d="M153.00,900.04 C173.72,900.04 184.08,581.15 204.80,581.15 L204.80,585.64 C184.08,585.64 173.72,904.53 153.00,904.53 Z" fill="#861E74" stroke="#861E74" stroke-width="0.3"/>
<path d="M153.00,904.53 C173.72,904.53 184.08,599.12 204.80,599.12 L204.80,603.61 C184.08,603.61 173.72,909.02 153.00,909.02 Z" fill="#861E74" stroke="#861E74" stroke-width="0.3"/>
<path d="M153.00,909.02 C173.72,909.02 184.08,648.52 204.80,648.52 L204.80,653.01 C184.08,653.01 173.72,913.51 153.00,913.51 Z" fill="#861E74" stroke="#861E74" stroke-width="0.3"/>
<path d="M153.00,913.51 C173.72,913.51 184.08,670.98 204.80,670.98 L204.80,675.47 C184.08,675.47 173.72,918.00 153.00,918.00 Z" fill="#861E74" stroke="#861E74" stroke-width="0.3"/>
<path d="M153.00,918.00 C173.72,918.00 184.08,688.95 204.80,688.95 L204.80,693.44 C184.08,693.44 173.72,922.50 153.00,922.50 Z" fill="#861E74" stroke="#861E74" stroke-width="0.3"/>
<path d="M153.00,922.50 C173.72,922.50 184.08,702.42 204.80,702.42 L204.80,706.91 C184.08,706.91 173.72,926.99 153.00,926.99 Z" fill="#861E74" stroke="#861E74" stroke-width="0.3"/>
<path d="M153.00,926.99 C173.72,926.99 184.08,720.39 204.80,720.39 L204.80,724.88 C184.08,724.88 173.72,931.48 153.00,931.48 Z" fill="#861E74" stroke="#861E74" stroke-width="0.3"/>
<path d="M153.00,931.48 C173.72,931.48 184.08,738.35 204.80,738.35 L204.80,742.84 C184.08,742.84 173.72,935.97 153.00,935.97 Z" fill="#861E74" stroke="#861E74" stroke-width="0.3"/>
<path d="M153.00,935.97 C173.72,935.97 184.08,783.26 204.80,783.26 L204.80,787.76 C184.08,787.76 173.72,940.46 153.00,940.46 Z" fill="#861E74" stroke="#861E74" stroke-width="0.3"/>
<path d="M153.00,940.46 C173.72,940.46 184.08,810.21 204.80,810.21 L204.80,814.70 C184.08,814.70 173.72,944.95 153.00,944.95 Z" fill="#861E74" stroke="#861E74" stroke-width="0.3"/>
<path d="M153.00,944.95 C173.72,944.95 184.08,828.18 204.80,828.18 L204.80,832.67 C184.08,832.67 173.72,949.44 153.00,949.44 Z" fill="#861E74" stroke="#861E74" stroke-width="0.3"/>
<path d="M153.00,949.44 C173.72,949.44 184.08,873.09 204.80,873.09 L204.80,877.58 C184.08,877.58 173.72,953.93 153.00,953.93 Z" fill="#861E74" stroke="#861E74" stroke-width="0.3"/>
<path d="M153.00,953.93 C173.72,953.93 184.08,895.55 204.80,895.55 L204.80,900.04 C184.08,900.04 173.72,958.43 153.00,958.43 Z" fill="#861E74" stroke="#861E74" stroke-width="0.3"/>
<path d="M153.00,958.43 C173.72,958.43 184.08,940.46 204.80,940.46 L204.80,944.95 C184.08,944.95 173.72,962.92 153.00,962.92 Z" fill="#861E74" stroke="#861E74" stroke-width="0.3"/>
<path d="M153.00,962.92 C173.72,962.92 184.08,953.93 204.80,953.93 L204.80,958.43 C184.08,958.43 173.72,967.41 153.00,967.41 Z" fill="#861E74" stroke="#861E74" stroke-width="0.3"/>
<path d="M153.00,967.41 C173.72,967.41 184.08,962.92 204.80,962.92 L204.80,967.41 C184.08,967.41 173.72,971.90 153.00,971.90 Z" fill="#861E74" stroke="#861E74" stroke-width="0.3"/>
</g>
<rect x="60.8" y="401.50" width="88.8" height="76.40" fill="#4D5AA9"/>
<rect x="60.8" y="477.85" width="88.8" height="67.42" fill="#D22A26"/>
<rect x="60.8" y="545.22" width="88.8" height="107.84" fill="#699A4B"/>
<rect x="60.8" y="653.01" width="88.8" height="89.88" fill="#EFE27E"/>
<rect x="60.8" y="742.84" width="88.8" height="22.51" fill="#325E7F"/>
<rect x="60.8" y="765.30" width="88.8" height="13.52" fill="#C35A24"/>
<rect x="60.8" y="778.77" width="88.8" height="98.86" fill="#50AEE0"/>
<rect x="60.8" y="877.58" width="88.8" height="94.37" fill="#761D60"/>
<text x="105.2" y="441.88" font-size="6.2" text-anchor="middle" fill="#111" style="stroke:none">Angeloylgomisin O</text>
<text x="105.2" y="513.74" font-size="6.2" text-anchor="middle" fill="#111" style="stroke:none">Deoxyharringtonine</text>
<text x="105.2" y="601.32" font-size="6.2" text-anchor="middle" fill="#111" style="stroke:none">Gomisin A</text>
<text x="105.2" y="700.13" font-size="6.2" text-anchor="middle" fill="#111" style="stroke:none">Gomisin G</text>
<text x="105.2" y="756.27" font-size="6.2" text-anchor="middle" fill="#111" style="stroke:none">Gomisin R</text>
<text x="105.2" y="774.24" font-size="6.2" text-anchor="middle" fill="#111" style="stroke:none">Longikaurin A</text>
<text x="105.2" y="830.38" font-size="6.2" text-anchor="middle" fill="#111" style="stroke:none">Schisandrin C</text>
<text x="105.2" y="926.94" font-size="6.2" text-anchor="middle" fill="#111" style="stroke:none">Schizandrer B</text>
<rect x="208.7" y="401.50" width="89.1" height="4.54" fill="#5FBD5B"/>
<rect x="208.7" y="405.99" width="89.1" height="4.54" fill="#D98BA5"/>
<rect x="208.7" y="410.48" width="89.1" height="31.49" fill="#8B3B1E"/>
<rect x="208.7" y="441.92" width="89.1" height="4.54" fill="#7E7B92"/>
<rect x="208.7" y="446.41" width="89.1" height="4.54" fill="#D4472A"/>
<rect x="208.7" y="450.90" width="89.1" height="27.00" fill="#D98A55"/>
<rect x="208.7" y="477.85" width="89.1" height="13.52" fill="#7B5CA8"/>
<rect x="208.7" y="491.33" width="89.1" height="27.00" fill="#E3A860"/>
<rect x="208.7" y="518.27" width="89.1" height="27.00" fill="#2B0A40"/>
<rect x="208.7" y="545.22" width="89.1" height="18.02" fill="#CFE0B9"/>
<rect x="208.7" y="563.19" width="89.1" height="22.51" fill="#58246F"/>
<rect x="208.7" y="585.64" width="89.1" height="18.02" fill="#AE1E5D"/>
<rect x="208.7" y="603.61" width="89.1" height="18.02" fill="#E8C565"/>
<rect x="208.7" y="621.58" width="89.1" height="31.49" fill="#4F5D53"/>
<rect x="208.7" y="653.01" width="89.1" height="22.51" fill="#C9952E"/>
<rect x="208.7" y="675.47" width="89.1" height="4.54" fill="#8DC63F"/>
<rect x="208.7" y="679.96" width="89.1" height="13.52" fill="#A8A8A8"/>
<rect x="208.7" y="693.44" width="89.1" height="13.52" fill="#3CB34A"/>
<rect x="208.7" y="706.91" width="89.1" height="18.02" fill="#35AF48"/>
<rect x="208.7" y="724.88" width="89.1" height="18.02" fill="#22B68E"/>
<rect x="208.7" y="742.84" width="89.1" height="4.54" fill="#1A8FD0"/>
<rect x="208.7" y="747.33" width="89.1" height="4.54" fill="#3A4E9F"/>
<rect x="208.7" y="751.82" width="89.1" height="35.98" fill="#0A6EB4"/>
<rect x="208.7" y="787.76" width="89.1" height="27.00" fill="#F27B20"/>
<rect x="208.7" y="814.70" width="89.1" height="18.02" fill="#12A046"/>
<rect x="208.7" y="832.67" width="89.1" height="4.54" fill="#E02428"/>
<rect x="208.7" y="837.16" width="89.1" height="22.51" fill="#8B60AB"/>
<rect x="208.7" y="859.62" width="89.1" height="18.02" fill="#874B3D"/>
<rect x="208.7" y="877.58" width="89.1" height="22.51" fill="#D670B0"/>
<rect x="208.7" y="900.04" width="89.1" height="4.54" fill="#7F7F7F"/>
<rect x="208.7" y="904.53" width="89.1" height="22.51" fill="#BCBD32"/>
<rect x="208.7" y="926.99" width="89.1" height="4.54" fill="#17BDCF"/>
<rect x="208.7" y="931.48" width="89.1" height="13.52" fill="#AEC7E8"/>
<rect x="208.7" y="944.95" width="89.1" height="4.54" fill="#FFBB78"/>
<rect x="208.7" y="949.44" width="89.1" height="9.03" fill="#98D98A"/>
<rect x="208.7" y="958.43" width="89.1" height="9.03" fill="#F79493"/>
<rect x="208.7" y="967.41" width="89.1" height="4.54" fill="#C6B0D5"/>
<text x="253.2" y="405.95" font-size="6.2" text-anchor="middle" fill="#111" style="stroke:none">AKT1</text>
<text x="253.2" y="410.44" font-size="6.2" text-anchor="middle" fill="#111" style="stroke:none">APP</text>
<text x="253.2" y="428.40" font-size="6.2" text-anchor="middle" fill="#111" style="stroke:none">AR</text>
<text x="253.2" y="446.37" font-size="6.2" text-anchor="middle" fill="#111" style="stroke:none">CASP1</text>
<text x="253.2" y="450.86" font-size="6.2" text-anchor="middle" fill="#111" style="stroke:none">CASP8</text>
<text x="253.2" y="466.58" font-size="6.2" text-anchor="middle" fill="#111" style="stroke:none">CASP9</text>
<text x="253.2" y="486.79" font-size="6.2" text-anchor="middle" fill="#111" style="stroke:none">CCND1</text>
<text x="253.2" y="507.00" font-size="6.2" text-anchor="middle" fill="#111" style="stroke:none">CDK2</text>
<text x="253.2" y="533.95" font-size="6.2" text-anchor="middle" fill="#111" style="stroke:none">EGFR</text>
<text x="253.2" y="556.41" font-size="6.2" text-anchor="middle" fill="#111" style="stroke:none">ESR1</text>
<text x="253.2" y="576.62" font-size="6.2" text-anchor="middle" fill="#111" style="stroke:none">GSK3B</text>
<text x="253.2" y="596.83" font-size="6.2" text-anchor="middle" fill="#111" style="stroke:none">IGF1R</text>
<text x="253.2" y="614.79" font-size="6.2" text-anchor="middle" fill="#111" style="stroke:none">JAK1</text>
<text x="253.2" y="639.50" font-size="6.2" text-anchor="middle" fill="#111" style="stroke:none">JAK2</text>
<text x="253.2" y="666.44" font-size="6.2" text-anchor="middle" fill="#111" style="stroke:none">KDR</text>
<text x="253.2" y="679.92" font-size="6.2" text-anchor="middle" fill="#111" style="stroke:none">KIT</text>
<text x="253.2" y="688.90" font-size="6.2" text-anchor="middle" fill="#111" style="stroke:none">MAP2K1</text>
<text x="253.2" y="702.37" font-size="6.2" text-anchor="middle" fill="#111" style="stroke:none">MAPK1</text>
<text x="253.2" y="718.09" font-size="6.2" text-anchor="middle" fill="#111" style="stroke:none">MAPK14</text>
<text x="253.2" y="736.06" font-size="6.2" text-anchor="middle" fill="#111" style="stroke:none">MAPK8</text>
<text x="253.2" y="747.29" font-size="6.2" text-anchor="middle" fill="#111" style="stroke:none">MMP2</text>
<text x="253.2" y="751.78" font-size="6.2" text-anchor="middle" fill="#111" style="stroke:none">MMP9</text>
<text x="253.2" y="771.99" font-size="6.2" text-anchor="middle" fill="#111" style="stroke:none">NR3C1</text>
<text x="253.2" y="803.43" font-size="6.2" text-anchor="middle" fill="#111" style="stroke:none">PARP1</text>
<text x="253.2" y="825.89" font-size="6.2" text-anchor="middle" fill="#111" style="stroke:none">PIK3CA</text>
<text x="253.2" y="837.11" font-size="6.2" text-anchor="middle" fill="#111" style="stroke:none">PPARG</text>
<text x="253.2" y="850.59" font-size="6.2" text-anchor="middle" fill="#111" style="stroke:none">PRKCA</text>
<text x="253.2" y="870.80" font-size="6.2" text-anchor="middle" fill="#111" style="stroke:none">PTGS2</text>
<text x="253.2" y="891.01" font-size="6.2" text-anchor="middle" fill="#111" style="stroke:none">PTK2</text>
<text x="253.2" y="904.48" font-size="6.2" text-anchor="middle" fill="#111" style="stroke:none">RELA</text>
<text x="253.2" y="917.96" font-size="6.2" text-anchor="middle" fill="#111" style="stroke:none">SRC</text>
<text x="253.2" y="931.43" font-size="6.2" text-anchor="middle" fill="#111" style="stroke:none">STAT3</text>
<text x="253.2" y="940.41" font-size="6.2" text-anchor="middle" fill="#111" style="stroke:none">SYK</text>
<text x="253.2" y="949.40" font-size="6.2" text-anchor="middle" fill="#111" style="stroke:none">TGFB1</text>
<text x="253.2" y="956.13" font-size="6.2" text-anchor="middle" fill="#111" style="stroke:none">TLR4</text>
<text x="253.2" y="965.12" font-size="6.2" text-anchor="middle" fill="#111" style="stroke:none">TNF</text>
<text x="253.2" y="971.85" font-size="6.2" text-anchor="middle" fill="#111" style="stroke:none">XIAP</text>
<g>
<rect x="397.60" y="415.70" width="179.46" height="23.30" fill="#FABD7C" stroke="#1a1a1a" stroke-width="1.4"/>
<line x1="394.3" y1="427.35" x2="397.60" y2="427.35" stroke="#1a1a1a" stroke-width="1"/>
<text transform="translate(390.6,430.70) scale(0.9,1)" font-size="9" text-anchor="end" fill="#222" style="stroke:none">Gomisin A</text>
<text x="579.96" y="430.95" font-size="8.3" font-weight="bold" fill="#000" style="stroke:none">24</text>
<rect x="397.60" y="452.26" width="164.45" height="23.30" fill="#FABD7C" stroke="#1a1a1a" stroke-width="1.4"/>
<line x1="394.3" y1="463.91" x2="397.60" y2="463.91" stroke="#1a1a1a" stroke-width="1"/>
<text transform="translate(390.6,467.26) scale(0.9,1)" font-size="9" text-anchor="end" fill="#222" style="stroke:none">Schisandrin C</text>
<text x="564.95" y="467.51" font-size="8.3" font-weight="bold" fill="#000" style="stroke:none">22</text>
<rect x="397.60" y="488.82" width="156.94" height="23.30" fill="#FABD7C" stroke="#1a1a1a" stroke-width="1.4"/>
<line x1="394.3" y1="500.47" x2="397.60" y2="500.47" stroke="#1a1a1a" stroke-width="1"/>
<text transform="translate(390.6,503.82) scale(0.9,1)" font-size="9" text-anchor="end" fill="#222" style="stroke:none">Schizandrer B</text>
<text x="557.44" y="504.07" font-size="8.3" font-weight="bold" fill="#000" style="stroke:none">21</text>
<rect x="397.60" y="525.38" width="149.43" height="23.30" fill="#FABD7C" stroke="#1a1a1a" stroke-width="1.4"/>
<line x1="394.3" y1="537.03" x2="397.60" y2="537.03" stroke="#1a1a1a" stroke-width="1"/>
<text transform="translate(390.6,540.38) scale(0.9,1)" font-size="9" text-anchor="end" fill="#222" style="stroke:none">Gomisin G</text>
<text x="549.93" y="540.63" font-size="8.3" font-weight="bold" fill="#000" style="stroke:none">20</text>
<rect x="397.60" y="561.94" width="126.91" height="23.30" fill="#FABD7C" stroke="#1a1a1a" stroke-width="1.4"/>
<line x1="394.3" y1="573.59" x2="397.60" y2="573.59" stroke="#1a1a1a" stroke-width="1"/>
<text transform="translate(390.6,576.94) scale(0.9,1)" font-size="9" text-anchor="end" fill="#222" style="stroke:none">Angeloylgomisin O</text>
<text x="527.41" y="577.19" font-size="8.3" font-weight="bold" fill="#000" style="stroke:none">17</text>
<rect x="397.60" y="598.50" width="111.90" height="23.30" fill="#FABD7C" stroke="#1a1a1a" stroke-width="1.4"/>
<line x1="394.3" y1="610.15" x2="397.60" y2="610.15" stroke="#1a1a1a" stroke-width="1"/>
<text transform="translate(390.6,613.50) scale(0.9,1)" font-size="9" text-anchor="end" fill="#222" style="stroke:none">Deoxyharringtonine</text>
<text x="512.40" y="613.75" font-size="8.3" font-weight="bold" fill="#000" style="stroke:none">15</text>
<rect x="397.60" y="635.06" width="36.83" height="23.30" fill="#FABD7C" stroke="#1a1a1a" stroke-width="1.4"/>
<line x1="394.3" y1="646.71" x2="397.60" y2="646.71" stroke="#1a1a1a" stroke-width="1"/>
<text transform="translate(390.6,650.06) scale(0.9,1)" font-size="9" text-anchor="end" fill="#222" style="stroke:none">Gomisin R</text>
<text x="437.33" y="650.31" font-size="8.3" font-weight="bold" fill="#000" style="stroke:none">5</text>
<rect x="397.60" y="671.62" width="29.33" height="23.30" fill="#FABD7C" stroke="#1a1a1a" stroke-width="1.4"/>
<line x1="394.3" y1="683.27" x2="397.60" y2="683.27" stroke="#1a1a1a" stroke-width="1"/>
<text transform="translate(390.6,686.62) scale(0.9,1)" font-size="9" text-anchor="end" fill="#222" style="stroke:none">Longikaurin A</text>
<text x="429.83" y="686.87" font-size="8.3" font-weight="bold" fill="#000" style="stroke:none">4</text>
<line x1="397.60" y1="402.9" x2="397.60" y2="707.50" stroke="#1a1a1a" stroke-width="1.2"/>
<line x1="397.00" y1="706.90" x2="623.4" y2="706.90" stroke="#1a1a1a" stroke-width="1.2"/>
<line x1="397.60" y1="706.90" x2="397.60" y2="710.30" stroke="#1a1a1a" stroke-width="1"/>
<line x1="405.11" y1="706.90" x2="405.11" y2="708.80" stroke="#1a1a1a" stroke-width="1"/>
<line x1="412.61" y1="706.90" x2="412.61" y2="708.80" stroke="#1a1a1a" stroke-width="1"/>
<line x1="420.12" y1="706.90" x2="420.12" y2="708.80" stroke="#1a1a1a" stroke-width="1"/>
<line x1="427.63" y1="706.90" x2="427.63" y2="708.80" stroke="#1a1a1a" stroke-width="1"/>
<line x1="435.13" y1="706.90" x2="435.13" y2="708.80" stroke="#1a1a1a" stroke-width="1"/>
<line x1="442.64" y1="706.90" x2="442.64" y2="708.80" stroke="#1a1a1a" stroke-width="1"/>
<line x1="450.15" y1="706.90" x2="450.15" y2="708.80" stroke="#1a1a1a" stroke-width="1"/>
<line x1="457.65" y1="706.90" x2="457.65" y2="708.80" stroke="#1a1a1a" stroke-width="1"/>
<line x1="465.16" y1="706.90" x2="465.16" y2="708.80" stroke="#1a1a1a" stroke-width="1"/>
<line x1="472.67" y1="706.90" x2="472.67" y2="710.30" stroke="#1a1a1a" stroke-width="1"/>
<line x1="480.17" y1="706.90" x2="480.17" y2="708.80" stroke="#1a1a1a" stroke-width="1"/>
<line x1="487.68" y1="706.90" x2="487.68" y2="708.80" stroke="#1a1a1a" stroke-width="1"/>
<line x1="495.19" y1="706.90" x2="495.19" y2="708.80" stroke="#1a1a1a" stroke-width="1"/>
<line x1="502.69" y1="706.90" x2="502.69" y2="708.80" stroke="#1a1a1a" stroke-width="1"/>
<line x1="510.20" y1="706.90" x2="510.20" y2="708.80" stroke="#1a1a1a" stroke-width="1"/>
<line x1="517.71" y1="706.90" x2="517.71" y2="708.80" stroke="#1a1a1a" stroke-width="1"/>
<line x1="525.21" y1="706.90" x2="525.21" y2="708.80" stroke="#1a1a1a" stroke-width="1"/>
<line x1="532.72" y1="706.90" x2="532.72" y2="708.80" stroke="#1a1a1a" stroke-width="1"/>
<line x1="540.23" y1="706.90" x2="540.23" y2="708.80" stroke="#1a1a1a" stroke-width="1"/>
<line x1="547.73" y1="706.90" x2="547.73" y2="710.30" stroke="#1a1a1a" stroke-width="1"/>
<line x1="555.24" y1="706.90" x2="555.24" y2="708.80" stroke="#1a1a1a" stroke-width="1"/>
<line x1="562.75" y1="706.90" x2="562.75" y2="708.80" stroke="#1a1a1a" stroke-width="1"/>
<line x1="570.25" y1="706.90" x2="570.25" y2="708.80" stroke="#1a1a1a" stroke-width="1"/>
<line x1="577.76" y1="706.90" x2="577.76" y2="708.80" stroke="#1a1a1a" stroke-width="1"/>
<line x1="585.27" y1="706.90" x2="585.27" y2="708.80" stroke="#1a1a1a" stroke-width="1"/>
<line x1="592.77" y1="706.90" x2="592.77" y2="708.80" stroke="#1a1a1a" stroke-width="1"/>
<line x1="600.28" y1="706.90" x2="600.28" y2="708.80" stroke="#1a1a1a" stroke-width="1"/>
<line x1="607.79" y1="706.90" x2="607.79" y2="708.80" stroke="#1a1a1a" stroke-width="1"/>
<line x1="615.29" y1="706.90" x2="615.29" y2="708.80" stroke="#1a1a1a" stroke-width="1"/>
<line x1="622.80" y1="706.90" x2="622.80" y2="710.30" stroke="#1a1a1a" stroke-width="1"/>
<text x="398.10" y="719.2" font-size="8.2" text-anchor="middle" fill="#222" style="stroke:none">0</text>
<text x="473.17" y="719.2" font-size="8.2" text-anchor="middle" fill="#222" style="stroke:none">10</text>
<text x="548.23" y="719.2" font-size="8.2" text-anchor="middle" fill="#222" style="stroke:none">20</text>
<text x="623.30" y="719.2" font-size="8.2" text-anchor="middle" fill="#222" style="stroke:none">30</text>
<text x="510.9" y="734.0" font-size="11.5" font-weight="bold" text-anchor="middle" fill="#000" style="stroke:none">Number of target</text>
</g>
</svg></body></html>
